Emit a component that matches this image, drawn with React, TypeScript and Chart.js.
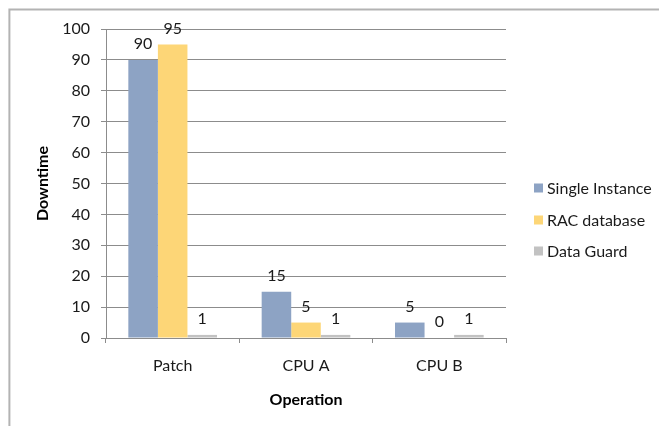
import React, { useEffect, useRef } from "react";
import { Chart, registerables } from "chart.js";

Chart.register(...registerables);

const categories = ["Patch", "CPU A", "CPU B"];
const singleInstance = [90, 15, 5];
const racDatabase = [95, 5, 0];
const dataGuard = [1, 1, 1];
const seriesNames = ["Single Instance", "RAC database", "Data Guard"];
const seriesColors = ["#8da3c4", "#fdd677", "#c2c2c2"];
const yTicks = [0, 10, 20, 30, 40, 50, 60, 70, 80, 90, 100];

const FONT = "Lato, 'Open Sans', sans-serif";

const framePlugin = {
  id: "frame",
  beforeDraw(chart: any) {
    const ctx = chart.ctx;
    ctx.save();
    ctx.fillStyle = "#ffffff";
    ctx.fillRect(0, 0, chart.width, chart.height);
    ctx.strokeStyle = "#b3b3b3";
    ctx.lineWidth = 2;
    ctx.beginPath();
    ctx.moveTo(9.4, chart.height);
    ctx.lineTo(9.4, 9.4);
    ctx.lineTo(chart.width, 9.4);
    ctx.stroke();
    ctx.restore();
  },
};

const labelsPlugin = {
  id: "valueLabels",
  afterDatasetsDraw(chart: any) {
    const ctx = chart.ctx;
    ctx.save();
    ctx.font = `16px ${FONT}`;
    ctx.fillStyle = "#1a1a1a";
    ctx.textAlign = "center";
    ctx.textBaseline = "middle";
    chart.data.datasets.forEach((ds: any, i: number) => {
      const meta = chart.getDatasetMeta(i);
      meta.data.forEach((bar: any, j: number) => {
        ctx.fillText(String(ds.data[j]), bar.x, bar.y - 16);
      });
    });
    ctx.restore();
  },
};

const legendPlugin = {
  id: "customLegend",
  afterDraw(chart: any) {
    const ctx = chart.ctx;
    ctx.save();
    ctx.font = `16px ${FONT}`;
    ctx.textBaseline = "middle";
    ctx.textAlign = "left";
    const rows = [188, 220, 251];
    chart.data.datasets.forEach((ds: any, i: number) => {
      const y = rows[i];
      ctx.fillStyle = ds.backgroundColor;
      ctx.fillRect(534, y - 4.5, 9, 9);
      ctx.fillStyle = "#1a1a1a";
      ctx.fillText(ds.label, 547, y + 1);
    });
    ctx.restore();
  },
};

export default function App() {
  const ref = useRef<HTMLCanvasElement | null>(null);
  useEffect(() => {
    document.body.style.margin = "0";
    const canvas = ref.current!;
    const chart = new Chart(canvas, {
      type: "bar",
      data: {
        labels: categories,
        datasets: [
          { label: seriesNames[0], data: singleInstance, backgroundColor: seriesColors[0] },
          { label: seriesNames[1], data: racDatabase, backgroundColor: seriesColors[1] },
          { label: seriesNames[2], data: dataGuard, backgroundColor: seriesColors[2] },
        ],
      },
      options: {
        responsive: false,
        animation: false,
        devicePixelRatio: 1,
        datasets: { bar: { categoryPercentage: 0.665, barPercentage: 1.0 } },
        layout: { padding: { top: 29, right: 153, left: 0, bottom: 0 } },
        plugins: { legend: { display: false }, tooltip: { enabled: false } },
        scales: {
          x: {
            afterFit: (s: any) => { s.height = 88; },
            grid: { display: true, drawOnChartArea: false, color: "#8c8c8c", tickLength: 5, offset: true },
            border: { color: "#8c8c8c" },
            ticks: { color: "#1a1a1a", font: { family: FONT, size: 16 }, padding: 13 },
            title: { display: true, text: "Operation", color: "#000", font: { family: FONT, size: 16, weight: "bold" }, padding: { top: 0, bottom: 17 } },
          },
          y: {
            min: 0,
            max: 100,
            afterFit: (s: any) => { s.width = 106; },
            afterBuildTicks: (s: any) => { s.ticks = yTicks.map((v) => ({ value: v })); },
            grid: { color: "#8c8c8c", tickLength: 5 },
            border: { color: "#8c8c8c" },
            ticks: { color: "#1a1a1a", font: { family: FONT, size: 16 }, padding: 11 },
            title: { display: true, text: "Downtime", color: "#000", font: { family: FONT, size: 16, weight: "bold" }, padding: { top: 33, bottom: 0 } },
          },
        },
      },
      plugins: [framePlugin, labelsPlugin, legendPlugin],
    } as any);
    return () => chart.destroy();
  }, []);
  return <canvas ref={ref} width={659} height={426} style={{ display: "block" }} />;
}
